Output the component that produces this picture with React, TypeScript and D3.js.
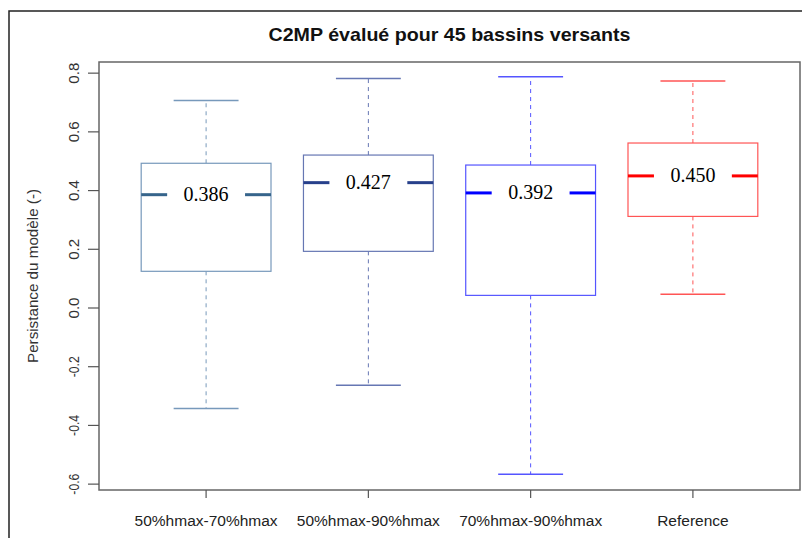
import React from "react";
import * as d3 from "d3";

const categories = ["50%hmax-70%hmax", "50%hmax-90%hmax", "70%hmax-90%hmax", "Reference"];
const mins = [-0.342, -0.263, -0.566, 0.047];
const q1s = [0.125, 0.193, 0.043, 0.312];
const medians = [0.386, 0.427, 0.392, 0.45];
const q3s = [0.493, 0.521, 0.487, 0.562];
const maxs = [0.707, 0.782, 0.788, 0.773];
const medianLabels = ["0.386", "0.427", "0.392", "0.450"];
const yTicks = [-0.6, -0.4, -0.2, 0.0, 0.2, 0.4, 0.6, 0.8];

const lineColors = ["#7799bb", "#6677b3", "#5555ff", "#ff5555"];
const medColors = ["#36648b", "#27408b", "#0000ff", "#ff0000"];

export default function App() {
  const W = 802, H = 538;
  const left = 99, right = 800, top = 62, bottom = 490;
  const x = d3.scaleLinear().domain([0.34, 4.66]).range([left, right]);
  const y = d3.scaleLinear().domain([-0.62, 0.838]).range([bottom, top]);
  const bw = (x(1.4) - x(0.6));
  const capW = bw / 2;
  const segLen = bw * 0.2;

  return (
    <svg width={W} height={H} style={{ position: "absolute", left: 0, top: 0, background: "#fff" }}
      fontFamily="'Liberation Sans', Arial, sans-serif">
      <rect x={0} y={0} width={W} height={H} fill="#fff" />
      {/* outer frame */}
      <path d={`M9,${H + 5} L9,11 L${W + 5},11`} fill="none" stroke="#222" strokeWidth={1.5} />
      <text x={(left + right) / 2} y={41} textAnchor="middle" fontWeight="bold" fontSize={18.5} fill="#111"
        textLength={362} lengthAdjust="spacingAndGlyphs">
        C2MP évalué pour 45 bassins versants
      </text>
      {/* boxes */}
      {categories.map((c, i) => {
        const cx = x(i + 1);
        const x0 = cx - bw / 2, x1 = cx + bw / 2;
        const lc = lineColors[i], mc = medColors[i];
        return (
          <g key={c}>
            <line x1={cx} x2={cx} y1={y(q3s[i])} y2={y(maxs[i])} stroke={lc} strokeDasharray="4,4" />
            <line x1={cx} x2={cx} y1={y(q1s[i])} y2={y(mins[i])} stroke={lc} strokeDasharray="4,4" />
            <line x1={cx - capW / 2} x2={cx + capW / 2} y1={y(maxs[i])} y2={y(maxs[i])} stroke={lc} strokeWidth={1.5} />
            <line x1={cx - capW / 2} x2={cx + capW / 2} y1={y(mins[i])} y2={y(mins[i])} stroke={lc} strokeWidth={1.5} />
            <rect x={x0} y={y(q3s[i])} width={bw} height={y(q1s[i]) - y(q3s[i])} fill="#fff" stroke={lc} strokeWidth={1.2} />
            <line x1={x0} x2={x0 + segLen} y1={y(medians[i])} y2={y(medians[i])} stroke={mc} strokeWidth={3} />
            <line x1={x1 - segLen} x2={x1} y1={y(medians[i])} y2={y(medians[i])} stroke={mc} strokeWidth={3} />
            <text x={cx} y={y(medians[i]) - 1} dy="0.35em" textAnchor="middle" fontFamily="'Liberation Serif', 'Times New Roman', serif" fontSize={20} fill="#000">
              {medianLabels[i]}
            </text>
          </g>
        );
      })}
      {/* plot box */}
      <rect x={left} y={top} width={right - left} height={bottom - top} fill="none" stroke="#666" strokeWidth={1.5} />
      {/* y axis */}
      {yTicks.map((t) => (
        <g key={t}>
          <line x1={left - 11} x2={left} y1={y(t)} y2={y(t)} stroke="#555" strokeWidth={1.2} />
          <text transform={`translate(${left - 25},${y(t)}) rotate(-90)`} textAnchor="middle" dy="0.35em" fontSize={14.5} fill="#333"
            textLength={21} lengthAdjust="spacingAndGlyphs">
            {t.toFixed(1)}
          </text>
        </g>
      ))}
      <text transform={`translate(33,${(top + bottom) / 2}) rotate(-90)`} textAnchor="middle" dy="0.35em" fontSize={14.5} fill="#333"
        textLength={174} lengthAdjust="spacingAndGlyphs">
        Persistance du modèle (-)
      </text>
      {/* x axis */}
      {categories.map((c, i) => (
        <g key={c}>
          <line x1={x(i + 1)} x2={x(i + 1)} y1={bottom} y2={bottom + 8} stroke="#555" strokeWidth={1.2} />
          <text x={x(i + 1)} y={526} textAnchor="middle" fontSize={15.5} fill="#222">{c}</text>
        </g>
      ))}
    </svg>
  );
}
